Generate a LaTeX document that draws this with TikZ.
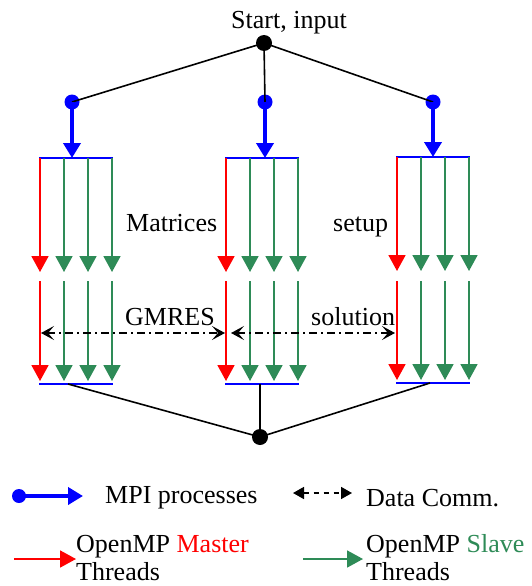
\documentclass[tikz,border=0pt]{standalone}
\usepackage{fontspec}
\setmainfont{Liberation Serif}
\usetikzlibrary{arrows.meta}
\definecolor{mgreen}{RGB}{46,139,87}
\definecolor{mred}{RGB}{255,0,0}
\definecolor{mblue}{RGB}{0,0,255}
\begin{document}
\begin{tikzpicture}[x=1pt,y=-1pt,
  lbl/.style={font=\fontsize{26}{30}\selectfont, inner sep=0pt, anchor=base west},
  dotb/.style={circle, fill=black, inner sep=0pt, minimum size=16pt},
  dotblue/.style={circle, fill=mblue, inner sep=0pt, minimum size=15pt},
  link/.style={line width=1.6pt, black},
  mpi/.style={line width=4pt, mblue, -{Triangle[length=15pt,width=17pt]}},
  master/.style={line width=1.8pt, mred, -{Triangle[length=16pt,width=17pt]}},
  slave/.style={line width=1.8pt, mgreen, -{Triangle[length=16pt,width=17pt]}},
  bar/.style={line width=2.2pt, mblue},
  comm/.style={line width=1.6pt, dash pattern=on 8pt off 4pt on 2pt off 4pt,
    {Stealth[length=13pt,width=14pt,inset=6pt]}-{Stealth[length=13pt,width=14pt,inset=6pt]}},
  dcomm/.style={line width=1.6pt, dash pattern=on 5pt off 5pt,
    {Triangle[length=11pt,width=12pt]}-{Triangle[length=11pt,width=12pt]}},
]
\useasboundingbox (0,0) rectangle (532,586);

% start
\node[dotb] (start) at (264,43) {};
\node[lbl, anchor=base] (starttxt) at (289,29) {Start, input};

% MPI process dots
\node[dotblue] (p1) at (72,102) {};
\node[dotblue] (p2) at (265,102) {};
\node[dotblue] (p3) at (433,102) {};
\draw[link] (start.center) -- (p1.center);
\draw[link] (start.center) -- (p2.center);
\draw[link] (start.center) -- (p3.center);
\coordinate (t1) at (72,158);
\coordinate (t2) at (265,158);
\coordinate (t3) at (433,157);
\draw[mpi] (p1.center) -- (t1);
\draw[mpi] (p2.center) -- (t2);
\draw[mpi] (p3.center) -- (t3);

% thread groups
\foreach \xo/\yt/\yb/\ya/\yc in {40/158/384/272/381, 226/158/384/272/381, 397/157/383/271/380}{
  \draw[bar] (\xo-1,\yt) -- (\xo+73,\yt);
  \draw[master] (\xo,\yt) -- (\xo,\ya);
  \draw[master] (\xo,281) -- (\xo,\yc);
  \foreach \i in {1,2,3}{
    \draw[slave] (\xo+24*\i,\yt) -- (\xo+24*\i,\ya);
    \draw[slave] (\xo+24*\i,281) -- (\xo+24*\i,\yc);
  }
  \draw[bar] (\xo-1,\yb) -- (\xo+73,\yb);
}

% end
\node[dotb] (end) at (260,437) {};
\coordinate (b1) at (68,384);
\coordinate (b2) at (260,384);
\coordinate (b3) at (430,383);
\draw[link] (b1) -- (end.center);
\draw[link] (b2) -- (end.center);
\draw[link] (b3) -- (end.center);

% labels
\node[lbl] (mat) at (126,231) {Matrices};
\node[lbl] (set) at (333,231) {setup};
\node[lbl] (gm) at (125,325) {GMRES};
\node[lbl] (sol) at (311,325) {solution};

% data communication
\coordinate (c1) at (41,333);
\coordinate (c2) at (225,333);
\coordinate (c3) at (231,333);
\coordinate (c4) at (395,333);
\draw[comm] (c1) -- (c2);
\draw[comm] (c3) -- (c4);

% legend
\node[circle, fill=mblue, inner sep=0pt, minimum size=14pt] (lp) at (19,496) {};
\coordinate (lpt) at (83,496);
\draw[mpi] (lp.center) -- (lpt);
\node[lbl] (lmpi) at (105,503) {MPI processes};

\coordinate (ld1) at (293,493);
\coordinate (ld2) at (352,493);
\draw[dcomm] (ld1) -- (ld2);
\node[lbl] (ldc) at (366,506) {Data Comm.};

\coordinate (lr1) at (14,559);
\coordinate (lr2) at (76,559);
\draw[master] (lr1) -- (lr2);
\node[lbl] (lm1) at (76,552) {OpenMP \textcolor{mred}{Master}};
\node[lbl] (lm2) at (76,580) {Threads};

\coordinate (lg1) at (303,559);
\coordinate (lg2) at (363,559);
\draw[slave] (lg1) -- (lg2);
\node[lbl] (ls1) at (366,552) {OpenMP \textcolor{mgreen}{Slave}};
\node[lbl] (ls2) at (366,580) {Threads};
\end{tikzpicture}
\end{document}
